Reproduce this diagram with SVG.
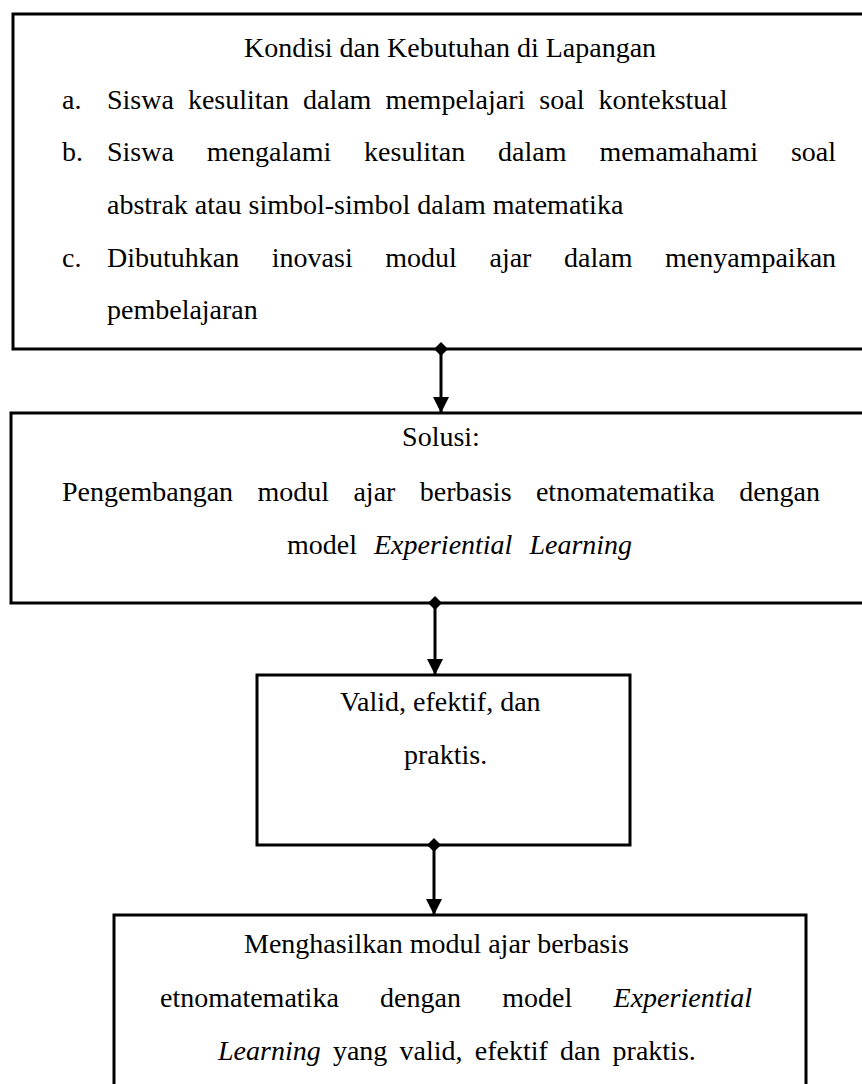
<svg xmlns="http://www.w3.org/2000/svg" width="862" height="1084" viewBox="0 0 862 1084">
<defs>
<marker id="dia" markerUnits="userSpaceOnUse" markerWidth="14" markerHeight="14" refX="7" refY="7" orient="auto"><path d="M0,7 L7,0 L14,7 L7,14 Z" fill="#000"/></marker>
<marker id="arr" markerUnits="userSpaceOnUse" markerWidth="16" markerHeight="16" refX="16" refY="8" orient="auto"><path d="M0,0 L16,8 L0,16 Z" fill="#000"/></marker>
<style>
.box{fill:#fff;stroke:#000;stroke-width:3}
.t{font-family:"Liberation Serif","Times New Roman",serif;font-size:28px;fill:#000}
.c{text-anchor:middle}
.i{font-style:italic}
.ln{stroke:#000;stroke-width:3;fill:none}
</style>
</defs>
<rect width="862" height="1084" fill="#fff"/>
<g id="node1">
<rect class="box" x="13" y="14" width="870" height="335"/>
<text class="t c" x="450" y="57">Kondisi dan Kebutuhan di Lapangan</text>
<text class="t" x="62" y="109">a.</text>
<text class="t" x="107" y="109" word-spacing="7">Siswa kesulitan dalam mempelajari soal kontekstual</text>
<text class="t" x="62" y="161">b.</text>
<text class="t" x="107" y="161" word-spacing="25.9">Siswa mengalami kesulitan dalam memamahami soal</text>
<text class="t" x="107" y="214">abstrak atau simbol-simbol dalam matematika</text>
<text class="t" x="62" y="267">c.</text>
<text class="t" x="107" y="267" word-spacing="25.6">Dibutuhkan inovasi modul ajar dalam menyampaikan</text>
<text class="t" x="107" y="319">pembelajaran</text>
</g>
<g id="node2">
<rect class="box" x="11" y="413" width="870" height="190"/>
<text class="t c" x="441" y="446">Solusi:</text>
<text class="t" x="62" y="501" word-spacing="17.4">Pengembangan modul ajar berbasis etnomatematika dengan</text>
<text class="t" x="287" y="554" word-spacing="10">model <tspan class="i">Experiential Learning</tspan></text>
</g>
<g id="node3">
<rect class="box" x="257" y="675" width="373" height="170"/>
<text class="t" x="340" y="711">Valid, efektif, dan</text>
<text class="t" x="404" y="764">praktis.</text>
</g>
<g id="node4">
<rect class="box" x="114" y="915" width="692" height="190"/>
<text class="t" x="244" y="953">Menghasilkan modul ajar berbasis</text>
<text class="t" x="160" y="1007" word-spacing="34.3">etnomatematika dengan model <tspan class="i">Experiential</tspan></text>
<text class="t" x="218" y="1060" word-spacing="5.2"><tspan class="i">Learning</tspan> yang valid, efektif dan praktis.</text>
</g>
<g id="connectors">
<line class="ln" x1="441" y1="349" x2="441" y2="413" marker-start="url(#dia)" marker-end="url(#arr)"/>
<line class="ln" x1="435" y1="603" x2="435" y2="675" marker-start="url(#dia)" marker-end="url(#arr)"/>
<line class="ln" x1="434" y1="845" x2="434" y2="915" marker-start="url(#dia)" marker-end="url(#arr)"/>
</g>
</svg>
